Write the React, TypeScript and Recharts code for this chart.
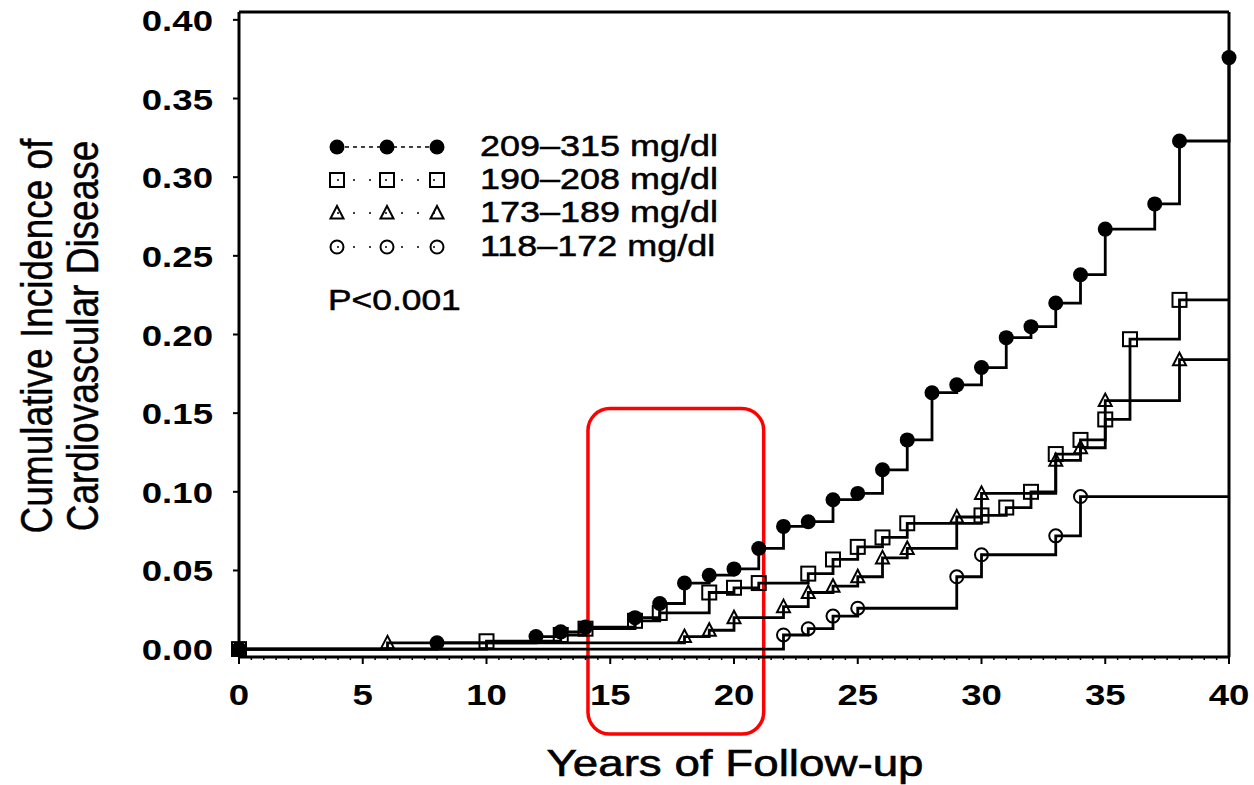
import { Legend, Line, LineChart, ReferenceArea, ReferenceLine, XAxis, YAxis } from 'recharts';

const FONT = '"Liberation Sans", Arial, Helvetica, sans-serif';
// type in the figure is set wide, so every label gets the same horizontal stretch
const SX = 1.22;

// cumulative incidence by cholesterol group (step points: year, incidence)
const yearsHigh = [0, 8, 12, 13, 14, 16, 17, 18, 19, 20, 21, 22, 23, 24, 25, 26, 27, 28, 29, 30, 31, 32, 33, 34, 35, 37, 38, 40];
const cvdHigh = [0, 0.004, 0.008, 0.011, 0.014, 0.02, 0.029, 0.042, 0.047, 0.051, 0.064, 0.078, 0.081, 0.095, 0.099, 0.114, 0.133, 0.163, 0.168, 0.179, 0.198, 0.205, 0.22, 0.238, 0.267, 0.283, 0.323, 0.376];

const yearsUpper = [0, 10, 13, 14, 16, 17, 19, 20, 21, 23, 24, 25, 26, 27, 30, 31, 32, 33, 34, 35, 36, 38];
const cvdUpper = [0, 0.005, 0.009, 0.013, 0.018, 0.023, 0.036, 0.039, 0.042, 0.048, 0.057, 0.065, 0.071, 0.08, 0.085, 0.09, 0.1, 0.124, 0.133, 0.146, 0.197, 0.222];

const yearsLower = [0, 6, 18, 19, 20, 22, 23, 24, 25, 26, 27, 29, 30, 33, 34, 35, 38];
const cvdLower = [0, 0.004, 0.008, 0.012, 0.02, 0.027, 0.036, 0.04, 0.046, 0.058, 0.064, 0.084, 0.099, 0.12, 0.128, 0.158, 0.184];

const yearsLow = [0, 22, 23, 24, 25, 29, 30, 33, 34];
const cvdLow = [0, 0.009, 0.013, 0.021, 0.026, 0.046, 0.06, 0.072, 0.097];

const GROUPS = ['209–315 mg/dl', '190–208 mg/dl', '173–189 mg/dl', '118–172 mg/dl'];
const P_VALUE = 'P<0.001';

const FOLLOW_UP_END = 40;
const Y_TICKS = [0, 0.05, 0.1, 0.15, 0.2, 0.25, 0.3, 0.35, 0.4];
const X_TICKS = Array.from({ length: 81 }, (_, i) => i / 2);

// rounded box drawn around years 14–21
const HIGHLIGHT = { from: 14.1, to: 21.2, bottom: -0.054, top: 0.153 };

type Shape = 'disc' | 'square' | 'triangle' | 'circle';
type Pt = { year: number; cvd: number; mark: boolean };

function steps(years: number[], values: number[], extend: boolean): Pt[] {
  const pts = years.map((year, i) => ({ year, cvd: values[i], mark: true }));
  if (extend) pts.push({ year: FOLLOW_UP_END, cvd: values[values.length - 1], mark: false });
  return pts;
}

const SERIES: { shape: Shape; data: Pt[] }[] = [
  { shape: 'circle', data: steps(yearsLow, cvdLow, true) },
  { shape: 'triangle', data: steps(yearsLower, cvdLower, true) },
  { shape: 'square', data: steps(yearsUpper, cvdUpper, true) },
  { shape: 'disc', data: steps(yearsHigh, cvdHigh, false) },
];

function Marker({ shape, x, y }: { shape: Shape; x: number; y: number }) {
  switch (shape) {
    case 'disc':
      return <circle cx={x} cy={y} r={7.5} fill="#000" />;
    case 'square':
      return <rect x={x - 7} y={y - 7} width={14} height={14} fill="none" stroke="#000" strokeWidth={2} />;
    case 'triangle':
      return (
        <path
          d={`M${x - 6.5},${y + 5.5} L${x},${y - 7} L${x + 6.5},${y + 5.5} Z`}
          fill="none"
          stroke="#000"
          strokeWidth={2}
        />
      );
    default:
      return <circle cx={x} cy={y} r={6.5} fill="none" stroke="#000" strokeWidth={2} />;
  }
}

const dotFor = (shape: Shape) => (p: any) =>
  p.payload && p.payload.mark ? (
    <g key={`${shape}-${p.index}`}>
      <Marker shape={shape} x={p.cx} y={p.cy} />
    </g>
  ) : (
    <g key={`${shape}-${p.index}`} />
  );

function XTick({ x, y, payload }: any) {
  const v = payload.value;
  const major = v % 5 === 0;
  return (
    <g>
      <line x1={x} x2={x} y1={y} y2={y + (major ? 7 : 3)} stroke="#000" strokeWidth={major ? 2 : 1.5} />
      {major ? (
        <text
          transform={`translate(${x},${y + 48}) scale(${SX},1)`}
          textAnchor="middle"
          fontFamily={FONT}
          fontWeight="bold"
          fontSize={30}
          fill="#000"
        >
          {v}
        </text>
      ) : null}
    </g>
  );
}

function YTick({ x, y, payload }: any) {
  return (
    <g>
      <line x1={x - 6} x2={x} y1={y} y2={y} stroke="#000" strokeWidth={2} />
      <text
        transform={`translate(${x - 26},${y + 11}) scale(${SX},1)`}
        textAnchor="end"
        fontFamily={FONT}
        fontWeight="bold"
        fontSize={30}
        fill="#000"
      >
        {payload.value.toFixed(2)}
      </text>
    </g>
  );
}

const xTitle = () => (
  <text
    transform={`translate(735,776) scale(${SX},1)`}
    textAnchor="middle"
    fontFamily={FONT}
    fontSize={37.5}
    fill="#000"
    stroke="#000"
    strokeWidth={0.6}
  >
    Years of Follow-up
  </text>
);

const yTitle = () => (
  <g
    transform={`translate(52,336) rotate(-90) scale(1,${SX})`}
    fontFamily={FONT}
    fontSize={37}
    textAnchor="middle"
    fill="#000"
    stroke="#000"
    strokeWidth={0.4}
  >
    <text x={0} y={0}>Cumulative Incidence of</text>
    <text x={0} y={38}>Cardiovascular Disease</text>
  </g>
);

const KEY_ORDER: Shape[] = ['disc', 'square', 'triangle', 'circle'];

function GroupKey() {
  const rowY = [27, 60, 93, 127];
  const markX = [37, 87, 137];
  return (
    <svg width={460} height={200} style={{ display: 'block' }}>
      {KEY_ORDER.map((shape, i) => (
        <g key={shape}>
          <line
            x1={markX[0]}
            x2={markX[2]}
            y1={rowY[i]}
            y2={rowY[i]}
            stroke="#000"
            strokeWidth={1.5}
            strokeDasharray={shape === 'disc' ? '4 4' : '2 14'}
          />
          {markX.map((mx) => (
            <Marker key={mx} shape={shape} x={mx} y={rowY[i]} />
          ))}
          <text
            transform={`translate(180,${rowY[i] + 9}) scale(${SX},1)`}
            fontFamily={FONT}
            fontSize={29.5}
            fill="#000"
            stroke="#000"
            strokeWidth={0.5}
          >
            {GROUPS[i]}
          </text>
        </g>
      ))}
      <text
        transform={`translate(28,190) scale(${SX},1)`}
        fontFamily={FONT}
        fontSize={29}
        fill="#000"
        stroke="#000"
        strokeWidth={0.5}
      >
        {P_VALUE}
      </text>
    </svg>
  );
}

export default function App() {
  return (
    <div style={{ position: 'absolute', left: 0, top: 0, width: 1254, height: 785, background: '#fff' }}>
      <LineChart width={1254} height={785} margin={{ top: 12, right: 25, bottom: 0, left: 0 }}>
        <XAxis
          dataKey="year"
          type="number"
          domain={[0, FOLLOW_UP_END]}
          ticks={X_TICKS}
          interval={0}
          height={128}
          tickSize={0}
          tickMargin={0}
          tickLine={false}
          tick={<XTick />}
          axisLine={{ stroke: '#000', strokeWidth: 3 }}
          label={xTitle}
        />
        <YAxis
          type="number"
          domain={[-0.005, 0.405]}
          ticks={Y_TICKS}
          interval={0}
          width={239}
          allowDataOverflow
          tickSize={0}
          tickMargin={0}
          tickLine={false}
          tick={<YTick />}
          axisLine={{ stroke: '#000', strokeWidth: 3 }}
          label={yTitle}
        />
        <ReferenceLine y={0.405} stroke="#000" strokeWidth={3} />
        <ReferenceLine x={FOLLOW_UP_END} stroke="#000" strokeWidth={3} />
        {SERIES.map((s) => (
          <Line
            key={s.shape}
            data={s.data}
            dataKey="cvd"
            type="stepAfter"
            stroke="#000"
            strokeWidth={2.8}
            dot={dotFor(s.shape)}
            activeDot={false}
            legendType="none"
            isAnimationActive={false}
          />
        ))}
        <ReferenceArea
          x1={HIGHLIGHT.from}
          x2={HIGHLIGHT.to}
          y1={HIGHLIGHT.bottom}
          y2={HIGHLIGHT.top}
          ifOverflow="visible"
          shape={(p: any) => (
            <rect
              x={p.x}
              y={p.y}
              width={p.width}
              height={p.height}
              rx={22}
              fill="none"
              stroke="#ff0000"
              strokeWidth={3.5}
            />
          )}
        />
        <Legend
          layout="horizontal"
          verticalAlign="middle"
          content={() => <GroupKey />}
          wrapperStyle={{ left: 300, top: 120, width: 460, height: 200 }}
        />
      </LineChart>
    </div>
  );
}
